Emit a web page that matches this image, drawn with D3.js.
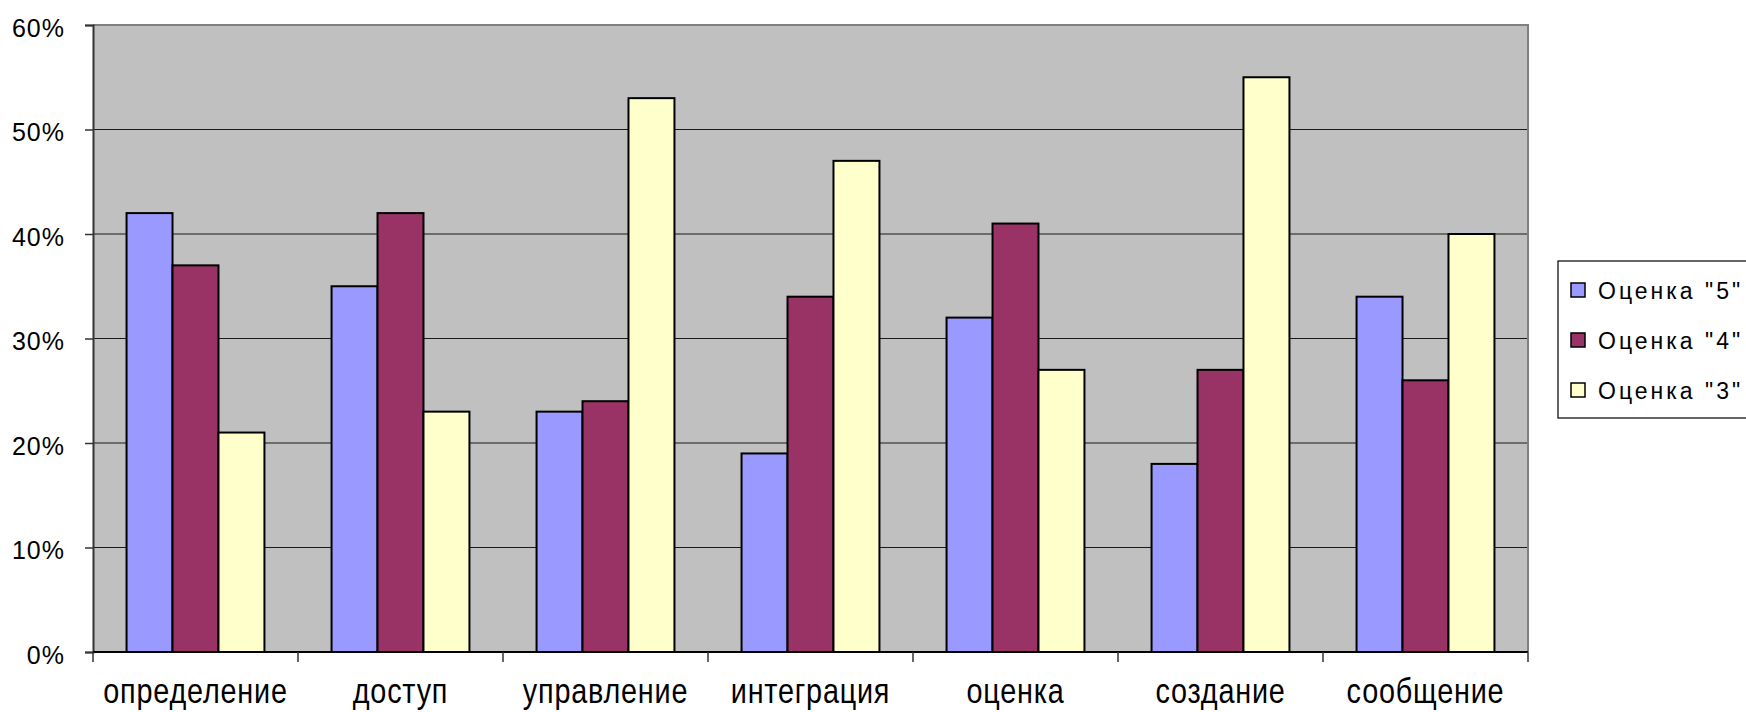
<!DOCTYPE html>
<html>
<head>
<meta charset="utf-8">
<script src="https://cdn.jsdelivr.net/npm/d3@7"></script>
<style>
  body { margin: 0; background: #fff; }
  text { font-family: "Liberation Sans", Arial, sans-serif; fill: #000; }
</style>
</head>
<body>
<svg id="chart"></svg>
<script>
const width = 1746, height = 712;
const plot = { left: 93, right: 1528, top: 25, bottom: 652 };

// Data (share of marks per skill)
const categories = ["определение", "доступ", "управление", "интеграция", "оценка", "создание", "сообщение"];
const seriesNames = ['Оценка "5"', 'Оценка "4"', 'Оценка "3"'];
const mark5 = [0.42, 0.35, 0.23, 0.19, 0.32, 0.18, 0.34];
const mark4 = [0.37, 0.42, 0.24, 0.34, 0.41, 0.27, 0.26];
const mark3 = [0.21, 0.23, 0.53, 0.47, 0.27, 0.55, 0.40];
const yTicks = [0, 0.1, 0.2, 0.3, 0.4, 0.5, 0.6];

const seriesValues = [mark5, mark4, mark3];
const colors = ["#9999FF", "#993366", "#FFFFCC"];

const svg = d3.select("#chart")
    .attr("width", width)
    .attr("height", height);

// Scales
const xScale = d3.scaleBand()
    .domain(categories)
    .range([plot.left, plot.right])
    .padding(0);

const xSub = d3.scaleBand()
    .domain(seriesNames)
    .range([0, xScale.bandwidth()])
    .paddingInner(0)
    .paddingOuter(0.73);

const yScale = d3.scaleLinear()
    .domain([0, 0.6])
    .range([plot.bottom, plot.top]);

const colorScale = d3.scaleOrdinal()
    .domain(seriesNames)
    .range(colors);

// Plot background
svg.append("rect")
    .attr("x", plot.left)
    .attr("y", plot.top)
    .attr("width", plot.right - plot.left)
    .attr("height", plot.bottom - plot.top)
    .attr("fill", "#C0C0C0");

// Gridlines
svg.append("g")
    .selectAll("line")
    .data(yTicks.filter(d => d > 0 && d < 0.6))
    .enter().append("line")
    .attr("x1", plot.left)
    .attr("x2", plot.right)
    .attr("y1", d => yScale(d))
    .attr("y2", d => yScale(d))
    .attr("stroke", "#1a1a1a")
    .attr("stroke-width", 1.2);

// Plot border (top and right in grey)
svg.append("path")
    .attr("d", `M${plot.left},${plot.top}H${plot.right}V${plot.bottom}`)
    .attr("fill", "none")
    .attr("stroke", "#808080")
    .attr("stroke-width", 2);

// Bars
const rows = [];
categories.forEach((c, i) => {
    seriesNames.forEach((s, j) => {
        rows.push({ cat: c, series: s, value: seriesValues[j][i] });
    });
});

svg.append("g")
    .selectAll("rect")
    .data(rows)
    .enter().append("rect")
    .attr("x", d => xScale(d.cat) + xSub(d.series))
    .attr("y", d => yScale(d.value))
    .attr("width", xSub.bandwidth())
    .attr("height", d => yScale(0) - yScale(d.value))
    .attr("fill", d => colorScale(d.series))
    .attr("stroke", "#000")
    .attr("stroke-width", 2);

// Y axis
const yAxis = svg.append("g")
    .attr("transform", `translate(${plot.left},0)`)
    .call(d3.axisLeft(yScale)
        .tickValues(yTicks)
        .tickFormat(d3.format(".0%"))
        .tickSize(8)
        .tickPadding(20));
yAxis.select(".domain").attr("stroke", "#333").attr("stroke-width", 2);
yAxis.selectAll(".tick line").attr("stroke", "#333").attr("stroke-width", 1.5);
yAxis.selectAll(".tick text")
    .attr("dy", 11)
    .style("font-size", "25px")
    .style("letter-spacing", "1px");

// X axis: line, boundary ticks, labels
svg.append("line")
    .attr("x1", plot.left)
    .attr("x2", plot.right)
    .attr("y1", plot.bottom)
    .attr("y2", plot.bottom)
    .attr("stroke", "#000")
    .attr("stroke-width", 2);

const boundaries = categories.map(c => xScale(c)).concat([xScale.range()[1]]);
svg.append("g")
    .selectAll("line")
    .data(boundaries)
    .enter().append("line")
    .attr("x1", d => d)
    .attr("x2", d => d)
    .attr("y1", plot.bottom)
    .attr("y2", plot.bottom + 10)
    .attr("stroke", "#333")
    .attr("stroke-width", 1.5);

svg.append("g")
    .selectAll("text")
    .data(categories)
    .enter().append("text")
    .attr("transform", d => `translate(${xScale(d) + xScale.bandwidth() / 2},703) scale(0.8,1)`)
    .attr("text-anchor", "middle")
    .style("font-size", "36px")
    .style("letter-spacing", "1px")
    .text(d => d);

// Legend
const legendX = 1558, legendY = 261;
svg.append("rect")
    .attr("x", legendX)
    .attr("y", legendY)
    .attr("width", 260)
    .attr("height", 157)
    .attr("fill", "#fff")
    .attr("stroke", "#000")
    .attr("stroke-width", 1.2);

const legend = svg.selectAll(".legend")
    .data(seriesNames)
    .enter().append("g")
    .attr("class", "legend")
    .attr("transform", (d, i) => `translate(${legendX}, ${legendY + 21 + i * 50})`);

legend.append("rect")
    .attr("x", 13)
    .attr("y", 1)
    .attr("width", 14)
    .attr("height", 14)
    .attr("fill", d => colorScale(d))
    .attr("stroke", "#000")
    .attr("stroke-width", 1.5);

legend.append("text")
    .attr("x", 40)
    .attr("y", 17)
    .style("font-size", "23px")
    .style("letter-spacing", "3px")
    .text(d => d);
</script>
</body>
</html>
